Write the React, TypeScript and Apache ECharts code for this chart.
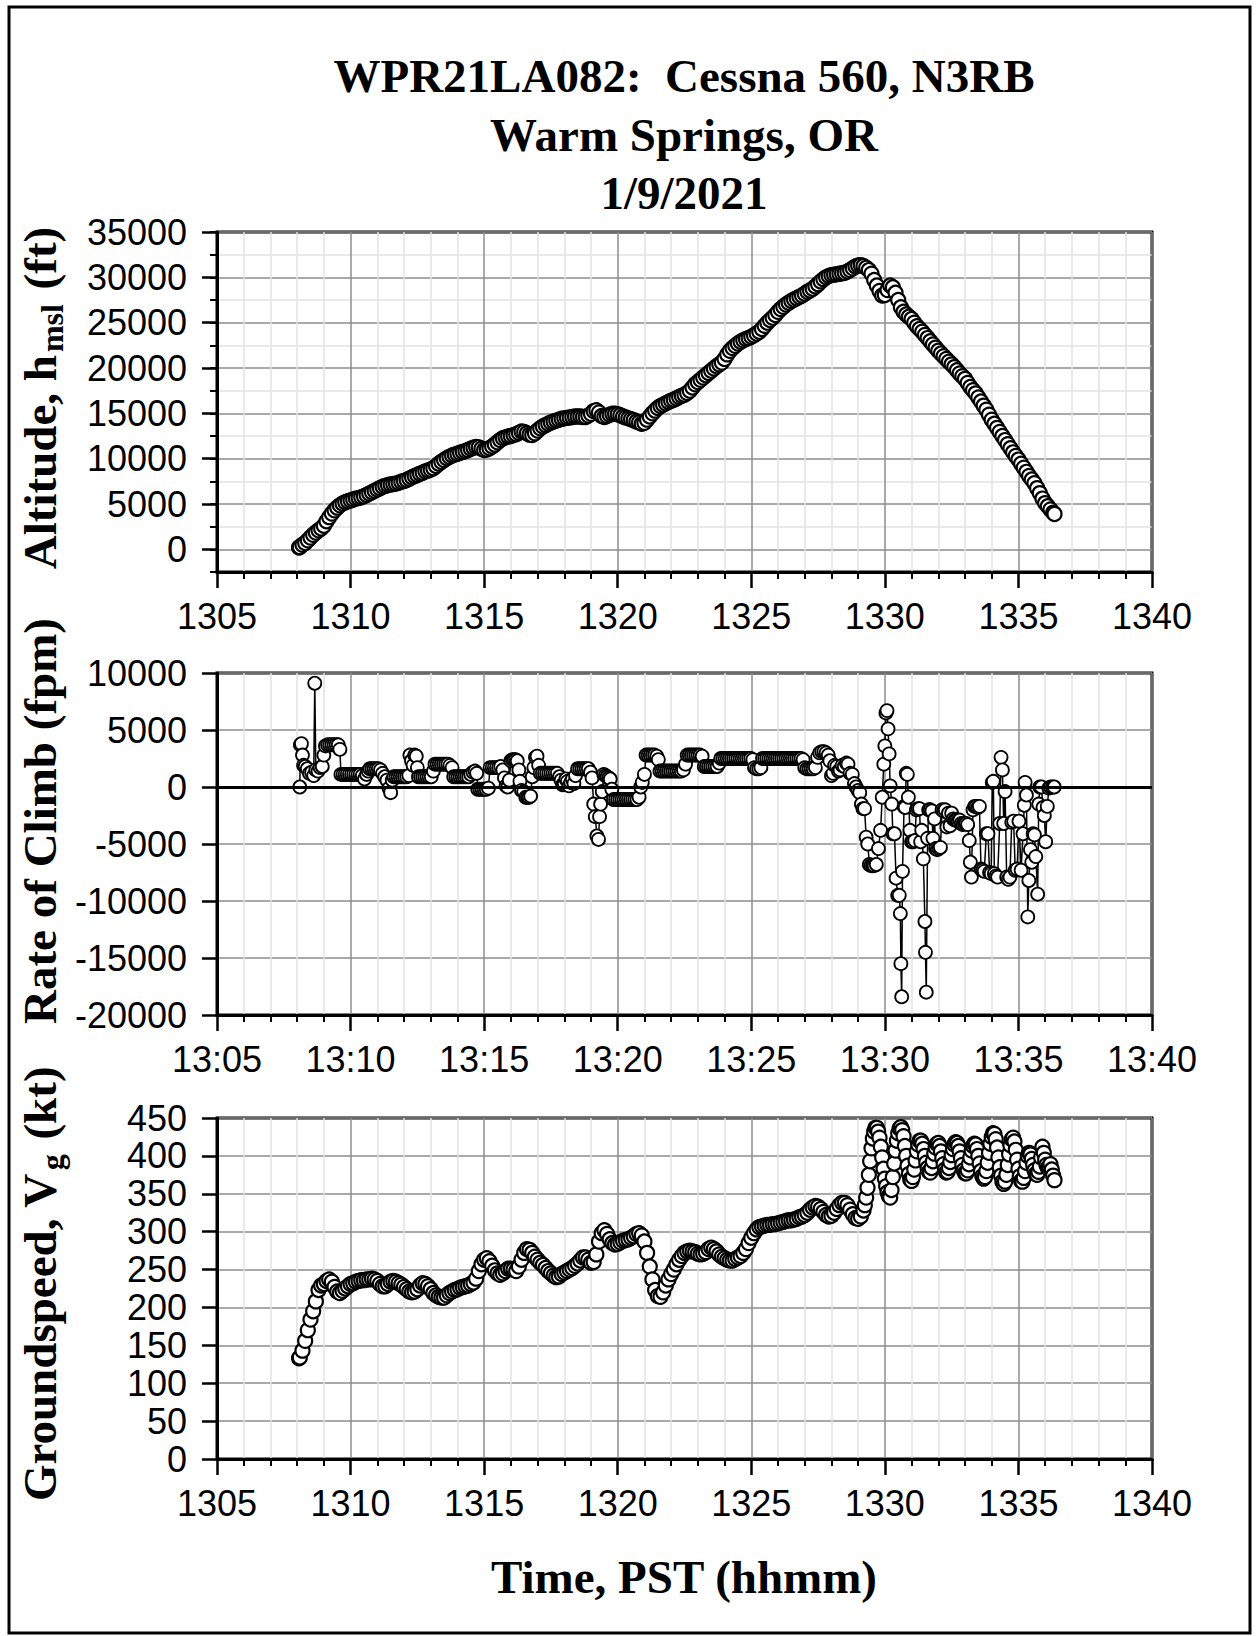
import React, { useEffect, useRef } from 'react';
import * as echarts from 'echarts';

// ---------- DATA ----------
// Time is hhmm with decimal minutes (e.g. 1308.5 = 13:08:30)
const altitudeFt: number[][] = [
  [1308.07, 200], [1308.1, 250], [1308.2, 500], [1308.3, 700], [1308.4, 1000], [1308.5, 1300], [1308.6, 1600],
  [1308.7, 1850], [1308.8, 2100], [1308.9, 2300], [1309.0, 2600], [1309.1, 3100], [1309.2, 3550], [1309.3, 3950],
  [1309.4, 4300], [1309.5, 4600], [1309.6, 4850], [1309.7, 5050], [1309.8, 5200], [1309.9, 5300], [1310.0, 5400],
  [1310.1, 5500], [1310.2, 5600], [1310.3, 5650], [1310.4, 5750], [1310.5, 5850], [1310.6, 6000], [1310.7, 6150],
  [1310.8, 6300], [1310.9, 6450], [1311.0, 6600], [1311.1, 6750], [1311.2, 6900], [1311.3, 7000], [1311.4, 7100],
  [1311.5, 7150], [1311.6, 7200], [1311.7, 7250], [1311.8, 7350], [1311.9, 7450], [1312.0, 7550], [1312.1, 7650],
  [1312.2, 7800], [1312.3, 7950], [1312.4, 8100], [1312.5, 8200], [1312.6, 8350], [1312.7, 8450], [1312.8, 8600],
  [1312.9, 8700], [1313.0, 8800], [1313.1, 8950], [1313.2, 9200], [1313.3, 9450], [1313.4, 9650], [1313.5, 9850],
  [1313.6, 10050], [1313.7, 10200], [1313.8, 10350], [1313.9, 10450], [1314.0, 10550], [1314.1, 10650], [1314.2, 10750],
  [1314.3, 10850], [1314.4, 10950], [1314.5, 11100], [1314.6, 11200], [1314.7, 11300], [1314.8, 11250], [1314.9, 11100],
  [1315.0, 10950], [1315.1, 11000], [1315.2, 11150], [1315.3, 11350], [1315.4, 11550], [1315.5, 11800], [1315.6, 12050],
  [1315.7, 12250], [1315.8, 12350], [1315.9, 12450], [1316.0, 12500], [1316.1, 12600], [1316.2, 12700], [1316.3, 12850],
  [1316.4, 13000], [1316.5, 12950], [1316.6, 12800], [1316.7, 12650], [1316.8, 12600], [1316.9, 12800], [1317.0, 13100],
  [1317.1, 13350], [1317.2, 13550], [1317.3, 13700], [1317.4, 13850], [1317.5, 14000], [1317.6, 14100], [1317.7, 14200],
  [1317.8, 14300], [1317.9, 14400], [1318.0, 14450], [1318.1, 14500], [1318.2, 14550], [1318.3, 14600], [1318.4, 14650],
  [1318.5, 14650], [1318.6, 14650], [1318.7, 14600], [1318.8, 14600], [1318.9, 14750], [1319.0, 14950], [1319.1, 15250],
  [1319.2, 15350], [1319.3, 15100], [1319.4, 14700], [1319.5, 14600], [1319.6, 14700], [1319.7, 14850], [1319.8, 14950],
  [1319.9, 14950], [1320.0, 14900], [1320.1, 14800], [1320.2, 14650], [1320.3, 14550], [1320.4, 14450], [1320.5, 14350],
  [1320.6, 14250], [1320.7, 14100], [1320.8, 14000], [1320.9, 13850], [1321.0, 13950], [1321.1, 14300], [1321.2, 14650],
  [1321.3, 15000], [1321.4, 15300], [1321.5, 15600], [1321.6, 15800], [1321.7, 15950], [1321.8, 16100], [1321.9, 16250],
  [1322.0, 16400], [1322.1, 16500], [1322.2, 16650], [1322.3, 16800], [1322.4, 16950], [1322.5, 17050], [1322.6, 17250],
  [1322.7, 17500], [1322.8, 17850], [1322.9, 18200], [1323.0, 18450], [1323.1, 18700], [1323.2, 18950], [1323.3, 19200],
  [1323.4, 19450], [1323.5, 19700], [1323.6, 19950], [1323.7, 20200], [1323.8, 20400], [1323.9, 20600], [1324.0, 21000],
  [1324.1, 21500], [1324.2, 21900], [1324.3, 22200], [1324.4, 22450], [1324.5, 22700], [1324.6, 22900], [1324.7, 23050],
  [1324.8, 23200], [1324.9, 23300], [1325.0, 23450], [1325.1, 23600], [1325.2, 23800], [1325.3, 24000], [1325.4, 24300],
  [1325.5, 24650], [1325.6, 25000], [1325.7, 25300], [1325.8, 25550], [1325.9, 25850], [1326.0, 26200], [1326.1, 26500],
  [1326.2, 26750], [1326.3, 27000], [1326.4, 27200], [1326.5, 27400], [1326.6, 27550], [1326.7, 27700], [1326.8, 27850],
  [1326.9, 28000], [1327.0, 28200], [1327.1, 28400], [1327.2, 28550], [1327.3, 28750], [1327.4, 29000], [1327.5, 29250],
  [1327.6, 29550], [1327.7, 29800], [1327.8, 30000], [1327.9, 30150], [1328.0, 30250], [1328.1, 30300], [1328.2, 30350],
  [1328.3, 30400], [1328.4, 30450], [1328.5, 30500], [1328.6, 30650], [1328.7, 30800], [1328.8, 31000], [1328.9, 31200],
  [1329.0, 31300], [1329.1, 31350], [1329.2, 31250], [1329.3, 31050], [1329.4, 30800], [1329.5, 30400], [1329.6, 29700],
  [1329.7, 29100], [1329.8, 28500], [1329.9, 28000], [1330.0, 28050], [1330.1, 28600], [1330.2, 29100], [1330.3, 28900],
  [1330.4, 28300], [1330.5, 27500], [1330.6, 26700], [1330.7, 26200], [1330.8, 25900], [1330.9, 25650], [1331.0, 25400],
  [1331.1, 25000], [1331.2, 24600], [1331.3, 24300], [1331.4, 24000], [1331.5, 23650], [1331.6, 23300], [1331.7, 22950],
  [1331.8, 22600], [1331.9, 22250], [1332.0, 21900], [1332.1, 21600], [1332.2, 21300], [1332.3, 21000], [1332.4, 20700],
  [1332.5, 20400], [1332.6, 20100], [1332.7, 19750], [1332.8, 19400], [1332.9, 19100], [1333.0, 18800], [1333.1, 18350],
  [1333.2, 17900], [1333.3, 17550], [1333.4, 17200], [1333.5, 16750], [1333.6, 16300], [1333.7, 15850], [1333.8, 15400],
  [1333.9, 14850], [1334.0, 14300], [1334.1, 13850], [1334.2, 13400], [1334.3, 12950], [1334.4, 12500], [1334.5, 12050],
  [1334.6, 11600], [1334.7, 11150], [1334.8, 10700], [1334.9, 10300], [1335.0, 9900], [1335.1, 9450], [1335.2, 9000],
  [1335.3, 8550], [1335.4, 8100], [1335.5, 7700], [1335.6, 7300], [1335.7, 6750], [1335.8, 6200], [1335.9, 5600],
  [1336.0, 5100], [1336.1, 4750], [1336.2, 4400], [1336.3, 4050], [1336.35, 3900],
];

const rateOfClimbFpm: number[][] = [
  [1308.1, 0], [1308.12, 3700], [1308.16, 3800], [1308.2, 2800], [1308.24, 1900], [1308.3, 1800],
  [1308.38, 1600], [1308.46, 1200], [1308.54, 1300], [1308.62, 1000], [1308.66, 9100], [1308.7, 1500],
  [1308.78, 1400], [1308.86, 1700], [1308.94, 1800], [1309.0, 2800], [1309.06, 3600], [1309.14, 3700],
  [1309.22, 3700], [1309.3, 3700], [1309.38, 3700], [1309.46, 3700], [1309.54, 3700], [1309.6, 3300],
  [1309.64, 1100], [1309.72, 1100], [1309.8, 1100], [1309.88, 1100], [1309.96, 1100], [1310.04, 1100],
  [1310.12, 1100], [1310.2, 1100], [1310.28, 1100], [1310.36, 1100], [1310.44, 1000], [1310.52, 700],
  [1310.6, 1100], [1310.66, 1400], [1310.72, 1600], [1310.8, 1600], [1310.88, 1600], [1310.96, 1600],
  [1311.04, 1600], [1311.12, 1500], [1311.2, 1200], [1311.28, 900], [1311.36, 600], [1311.44, -100],
  [1311.5, -500], [1311.56, 600], [1311.62, 900], [1311.7, 900], [1311.78, 900], [1311.86, 900],
  [1311.94, 900], [1312.02, 900], [1312.1, 900], [1312.18, 1000], [1312.22, 2800], [1312.28, 2300],
  [1312.34, 1900], [1312.4, 2800], [1312.46, 2700], [1312.5, 1700], [1312.54, 900], [1312.62, 900],
  [1312.7, 900], [1312.78, 900], [1312.86, 900], [1312.94, 900], [1313.02, 900], [1313.1, 1400],
  [1313.16, 2000], [1313.24, 2000], [1313.32, 2000], [1313.4, 2000], [1313.48, 2000], [1313.56, 2000],
  [1313.64, 2000], [1313.72, 1900], [1313.8, 1700], [1313.86, 900], [1313.94, 900], [1314.02, 900],
  [1314.1, 900], [1314.18, 900], [1314.26, 900], [1314.34, 900], [1314.42, 900], [1314.5, 1100],
  [1314.58, 1300], [1314.66, 1400], [1314.72, 1200], [1314.76, -200], [1314.84, -200], [1314.92, -200],
  [1315.0, -200], [1315.08, -200], [1315.16, -100], [1315.22, 1700], [1315.3, 1700], [1315.38, 1700],
  [1315.46, 1700], [1315.54, 1700], [1315.62, 1800], [1315.7, 1500], [1315.76, 800], [1315.82, 100],
  [1315.88, 0], [1315.94, 600], [1316.0, 2300], [1316.06, 2400], [1316.12, 2400], [1316.18, 2400],
  [1316.24, 2300], [1316.3, 1500], [1316.34, 500], [1316.4, -300], [1316.48, -400], [1316.56, -900],
  [1316.62, -900], [1316.68, -900], [1316.74, -800], [1316.8, 900], [1316.86, 1700], [1316.92, 2600],
  [1316.98, 2700], [1317.04, 1900], [1317.1, 1200], [1317.18, 1200], [1317.26, 1200], [1317.34, 1200],
  [1317.42, 1200], [1317.5, 1200], [1317.58, 1200], [1317.66, 1200], [1317.74, 1200], [1317.82, 900],
  [1317.88, 600], [1317.94, 200], [1318.0, 300], [1318.06, 700], [1318.12, 500], [1318.18, 100],
  [1318.24, 400], [1318.3, 700], [1318.36, 300], [1318.42, 1000], [1318.5, 1600], [1318.58, 1600],
  [1318.66, 1600], [1318.74, 1600], [1318.82, 1600], [1318.9, 1600], [1318.98, 1300], [1319.04, 800],
  [1319.1, -1500], [1319.16, -2600], [1319.22, -4300], [1319.28, -4600], [1319.32, -2600], [1319.36, -1500],
  [1319.42, -400], [1319.48, 1100], [1319.54, 1000], [1319.6, 900], [1319.66, 800], [1319.72, 700],
  [1319.78, -200], [1319.84, -1100], [1319.92, -1100], [1320.0, -1100], [1320.08, -1100], [1320.16, -1100],
  [1320.24, -1100], [1320.32, -1100], [1320.4, -1100], [1320.48, -1100], [1320.56, -1100], [1320.64, -1100],
  [1320.72, -1100], [1320.8, -900], [1320.86, 0], [1320.92, 400], [1321.0, 1100], [1321.06, 2800],
  [1321.14, 2800], [1321.22, 2800], [1321.3, 2800], [1321.38, 2800], [1321.46, 2700], [1321.52, 2400],
  [1321.58, 1400], [1321.66, 1400], [1321.74, 1400], [1321.82, 1400], [1321.9, 1400], [1321.98, 1400],
  [1322.06, 1400], [1322.14, 1400], [1322.22, 1400], [1322.3, 1400], [1322.38, 1400], [1322.46, 1500],
  [1322.54, 2000], [1322.6, 2800], [1322.68, 2800], [1322.76, 2800], [1322.84, 2800], [1322.92, 2800],
  [1323.0, 2800], [1323.08, 2800], [1323.16, 2700], [1323.24, 1800], [1323.32, 1800], [1323.4, 1800],
  [1323.48, 1800], [1323.56, 1800], [1323.64, 1800], [1323.72, 1800], [1323.8, 2100], [1323.86, 2500],
  [1323.94, 2500], [1324.02, 2500], [1324.1, 2500], [1324.18, 2500], [1324.26, 2500], [1324.34, 2500],
  [1324.42, 2500], [1324.5, 2500], [1324.58, 2500], [1324.66, 2500], [1324.74, 2500], [1324.82, 2500],
  [1324.9, 2500], [1324.98, 2500], [1325.06, 2400], [1325.12, 1700], [1325.2, 1600], [1325.28, 1600],
  [1325.36, 1700], [1325.42, 2500], [1325.5, 2500], [1325.58, 2500], [1325.66, 2500], [1325.74, 2500],
  [1325.82, 2500], [1325.9, 2500], [1325.98, 2500], [1326.06, 2500], [1326.14, 2500], [1326.22, 2500],
  [1326.3, 2500], [1326.38, 2500], [1326.46, 2500], [1326.54, 2500], [1326.62, 2500], [1326.7, 2500],
  [1326.78, 2500], [1326.86, 2500], [1326.94, 2400], [1327.0, 1700], [1327.08, 1600], [1327.16, 1600],
  [1327.24, 1600], [1327.32, 1600], [1327.4, 1700], [1327.48, 2600], [1327.56, 3000], [1327.64, 3100],
  [1327.72, 3100], [1327.8, 3000], [1327.88, 2800], [1327.94, 2300], [1328.0, 1000], [1328.06, 1200],
  [1328.12, 1900], [1328.2, 1800], [1328.26, 1400], [1328.32, 1500], [1328.4, 1900], [1328.48, 1800],
  [1328.56, 2100], [1328.62, 2000], [1328.7, 1200], [1328.78, 1100], [1328.86, 300], [1328.92, 0],
  [1329.0, -300], [1329.06, -500], [1329.12, -1500], [1329.18, -1900], [1329.24, -1900], [1329.3, -4400],
  [1329.36, -5000], [1329.42, -6800], [1329.48, -6900], [1329.54, -6900], [1329.6, -6900], [1329.68, -6800],
  [1329.76, -5400], [1329.84, -3800], [1329.9, -900], [1329.96, 2000], [1330.0, 3600], [1330.04, 6500],
  [1330.08, 6700], [1330.12, 5100], [1330.16, 2900], [1330.2, 100], [1330.26, -1500], [1330.3, -4100],
  [1330.36, -4100], [1330.42, -8000], [1330.48, -9500], [1330.54, -9500], [1330.58, -11100], [1330.6, -15500],
  [1330.63, -18400], [1330.66, -7400], [1330.72, -1700], [1330.76, -1800], [1330.8, 1200], [1330.84, 1100],
  [1330.88, -900], [1330.94, -3800], [1331.0, -4800], [1331.06, -4800], [1331.12, -4700], [1331.18, -2000],
  [1331.24, -1900], [1331.3, -1900], [1331.34, -4800], [1331.38, -3800], [1331.44, -6300], [1331.5, -11800],
  [1331.52, -14500], [1331.55, -18000], [1331.6, -4500], [1331.64, -2000], [1331.7, -2000], [1331.76, -2100],
  [1331.8, -4500], [1331.86, -2800], [1331.9, -5400], [1331.96, -5500], [1332.02, -5400], [1332.08, -5300],
  [1332.14, -2000], [1332.2, -2100], [1332.26, -2000], [1332.32, -3500], [1332.38, -2300], [1332.44, -3400],
  [1332.5, -2300], [1332.56, -2800], [1332.62, -2900], [1332.68, -2900], [1332.74, -3000], [1332.8, -2900],
  [1332.86, -3200], [1332.92, -3300], [1332.98, -3200], [1333.04, -3200], [1333.1, -3300], [1333.16, -4700],
  [1333.2, -6600], [1333.24, -7900], [1333.3, -2000], [1333.36, -1700], [1333.42, -1700], [1333.48, -1800],
  [1333.54, -1700], [1333.6, -7200], [1333.66, -7300], [1333.72, -7400], [1333.8, -4100], [1333.86, -4100],
  [1333.92, -7500], [1333.98, -7600], [1334.02, 400], [1334.06, 500], [1334.1, -7600], [1334.16, -7800],
  [1334.22, -7900], [1334.3, -3200], [1334.35, 2600], [1334.4, 1500], [1334.45, -3200], [1334.5, -400],
  [1334.56, -7900], [1334.62, -8100], [1334.68, -7900], [1334.75, -3100], [1334.82, -3000], [1334.88, -7300],
  [1334.95, -7200], [1335.02, -3000], [1335.1, -7300], [1335.17, -4100], [1335.22, -1600], [1335.25, 400],
  [1335.3, -700], [1335.35, -11400], [1335.39, -8200], [1335.45, -5500], [1335.5, -6600], [1335.55, -4100],
  [1335.6, -4200], [1335.65, -6100], [1335.72, -9400], [1335.76, -1500], [1335.8, 0], [1335.86, 0],
  [1335.92, -1800], [1335.97, -2500], [1336.02, -4800], [1336.08, -1700], [1336.14, -100], [1336.2, 0],
  [1336.28, 0], [1336.34, 0],
];

const groundspeedKt: number[][] = [
  [1308.07, 133], [1308.1, 134], [1308.2, 143], [1308.3, 156], [1308.4, 170], [1308.5, 184], [1308.6, 195],
  [1308.7, 208], [1308.8, 223], [1308.9, 229], [1309.0, 231], [1309.1, 235], [1309.2, 237], [1309.3, 234],
  [1309.4, 227], [1309.5, 221], [1309.6, 219], [1309.7, 222], [1309.8, 225], [1309.9, 228], [1310.0, 231],
  [1310.1, 232], [1310.2, 234], [1310.3, 235], [1310.4, 236], [1310.5, 236], [1310.6, 237], [1310.7, 237],
  [1310.8, 238], [1310.9, 237], [1311.0, 235], [1311.1, 231], [1311.2, 228], [1311.3, 228], [1311.4, 231],
  [1311.5, 234], [1311.6, 235], [1311.7, 234], [1311.8, 232], [1311.9, 230], [1312.0, 227], [1312.1, 224],
  [1312.2, 221], [1312.3, 220], [1312.4, 221], [1312.5, 224], [1312.6, 229], [1312.7, 232], [1312.8, 231],
  [1312.9, 228], [1313.0, 224], [1313.1, 219], [1313.2, 216], [1313.3, 214], [1313.4, 213], [1313.5, 213],
  [1313.6, 216], [1313.7, 219], [1313.8, 221], [1313.9, 223], [1314.0, 224], [1314.1, 226], [1314.2, 227],
  [1314.3, 228], [1314.4, 229], [1314.5, 231], [1314.6, 233], [1314.7, 238], [1314.8, 248], [1314.9, 257],
  [1315.0, 263], [1315.1, 265], [1315.2, 261], [1315.3, 255], [1315.4, 249], [1315.5, 245], [1315.6, 243],
  [1315.7, 245], [1315.8, 248], [1315.9, 251], [1316.0, 251], [1316.1, 250], [1316.2, 248], [1316.3, 254],
  [1316.4, 263], [1316.5, 272], [1316.6, 277], [1316.7, 276], [1316.8, 272], [1316.9, 267], [1317.0, 263],
  [1317.1, 259], [1317.2, 256], [1317.3, 252], [1317.4, 248], [1317.5, 245], [1317.6, 242], [1317.7, 240],
  [1317.8, 241], [1317.9, 244], [1318.0, 246], [1318.1, 248], [1318.2, 250], [1318.3, 252], [1318.4, 255],
  [1318.5, 258], [1318.6, 262], [1318.7, 266], [1318.8, 266], [1318.9, 263], [1319.0, 259], [1319.1, 260],
  [1319.2, 270], [1319.3, 287], [1319.4, 298], [1319.5, 302], [1319.6, 297], [1319.7, 290], [1319.8, 285],
  [1319.9, 283], [1320.0, 284], [1320.1, 286], [1320.2, 288], [1320.3, 289], [1320.4, 290], [1320.5, 292],
  [1320.6, 294], [1320.7, 297], [1320.8, 298], [1320.9, 295], [1321.0, 287], [1321.1, 272], [1321.2, 254],
  [1321.3, 237], [1321.4, 223], [1321.5, 215], [1321.6, 214], [1321.7, 220], [1321.8, 229], [1321.9, 237],
  [1322.0, 244], [1322.1, 250], [1322.2, 257], [1322.3, 263], [1322.4, 268], [1322.5, 272], [1322.6, 274],
  [1322.7, 275], [1322.8, 274], [1322.9, 273], [1323.0, 271], [1323.1, 270], [1323.2, 271], [1323.3, 273],
  [1323.4, 277], [1323.5, 279], [1323.6, 277], [1323.7, 274], [1323.8, 270], [1323.9, 267], [1324.0, 265],
  [1324.1, 263], [1324.2, 262], [1324.3, 262], [1324.4, 264], [1324.5, 266], [1324.6, 268], [1324.7, 272],
  [1324.8, 277], [1324.9, 285], [1325.0, 292], [1325.1, 298], [1325.2, 303], [1325.3, 306], [1325.4, 307],
  [1325.5, 308], [1325.6, 309], [1325.7, 309], [1325.8, 310], [1325.9, 310], [1326.0, 311], [1326.1, 312],
  [1326.2, 313], [1326.3, 314], [1326.4, 315], [1326.5, 315], [1326.6, 316], [1326.7, 317], [1326.8, 319],
  [1326.9, 320], [1327.0, 322], [1327.1, 325], [1327.2, 329], [1327.3, 332], [1327.4, 334], [1327.5, 333],
  [1327.6, 330], [1327.7, 326], [1327.8, 322], [1327.9, 320], [1328.0, 321], [1328.1, 325], [1328.2, 330],
  [1328.3, 335], [1328.4, 338], [1328.5, 338], [1328.6, 335], [1328.7, 329], [1328.8, 323], [1328.9, 318],
  [1329.0, 317], [1329.1, 320], [1329.2, 328], [1329.25, 335], [1329.3, 345], [1329.35, 358], [1329.4, 375],
  [1329.45, 393], [1329.5, 410], [1329.55, 423], [1329.6, 432], [1329.65, 437], [1329.7, 437], [1329.75, 432],
  [1329.8, 424], [1329.85, 412], [1329.9, 398], [1329.95, 383], [1330.0, 370], [1330.05, 360], [1330.1, 352],
  [1330.15, 347], [1330.2, 345], [1330.25, 355], [1330.3, 372], [1330.35, 390], [1330.4, 407], [1330.45, 420],
  [1330.5, 430], [1330.55, 436], [1330.6, 438], [1330.65, 434], [1330.7, 426], [1330.75, 413], [1330.8, 400],
  [1330.85, 387], [1330.9, 376], [1330.95, 369], [1331.0, 367], [1331.05, 372], [1331.1, 382], [1331.15, 394],
  [1331.2, 406], [1331.25, 415], [1331.3, 420], [1331.35, 420], [1331.4, 416], [1331.45, 409], [1331.5, 400],
  [1331.55, 391], [1331.6, 384], [1331.65, 379], [1331.7, 378], [1331.75, 384], [1331.8, 393], [1331.85, 403],
  [1331.9, 411], [1331.95, 416], [1332.0, 417], [1332.05, 413], [1332.1, 406], [1332.15, 397], [1332.2, 389],
  [1332.25, 382], [1332.3, 378], [1332.35, 379], [1332.4, 384], [1332.45, 392], [1332.5, 401], [1332.55, 409],
  [1332.6, 415], [1332.65, 418], [1332.7, 417], [1332.75, 413], [1332.8, 406], [1332.85, 397], [1332.9, 388],
  [1332.95, 381], [1333.0, 377], [1333.05, 377], [1333.1, 381], [1333.15, 389], [1333.2, 398], [1333.25, 407],
  [1333.3, 413], [1333.35, 416], [1333.4, 415], [1333.45, 409], [1333.5, 400], [1333.55, 390], [1333.6, 380],
  [1333.65, 373], [1333.7, 370], [1333.75, 372], [1333.8, 380], [1333.85, 391], [1333.9, 404], [1333.95, 416],
  [1334.0, 425], [1334.05, 430], [1334.1, 429], [1334.15, 422], [1334.2, 411], [1334.25, 398], [1334.3, 385],
  [1334.35, 374], [1334.4, 366], [1334.45, 363], [1334.5, 366], [1334.55, 375], [1334.6, 388], [1334.65, 402],
  [1334.7, 414], [1334.75, 422], [1334.8, 424], [1334.85, 419], [1334.9, 408], [1334.95, 395], [1335.0, 383],
  [1335.05, 373], [1335.1, 367], [1335.15, 366], [1335.2, 371], [1335.25, 380], [1335.3, 391], [1335.35, 400],
  [1335.4, 404], [1335.45, 402], [1335.5, 396], [1335.55, 388], [1335.6, 381], [1335.65, 376], [1335.7, 375],
  [1335.75, 379], [1335.8, 386], [1335.85, 398], [1335.9, 412], [1335.95, 404], [1336.0, 395], [1336.05, 388],
  [1336.1, 384], [1336.15, 386], [1336.2, 389], [1336.25, 382], [1336.3, 374], [1336.35, 368],
];

const titleLines = ['WPR21LA082:  Cessna 560, N3RB', 'Warm Springs, OR', '1/9/2021'];
const altMajorTicks = [0, 5000, 10000, 15000, 20000, 25000, 30000, 35000];

// ---------- STYLE ----------
const SERIF = '"Liberation Serif", "Times New Roman", serif';
const SANS = '"Liberation Sans", Arial, sans-serif';
const MAJOR_GRID = '#8c8c8c';
const MINOR_GRID = '#e2e2e2';

const GRID_LEFT = 217;
const GRID_W = 935;

function xAxis(gridIndex: number, fmt: (v: number) => string) {
  return {
    type: 'value', gridIndex, min: 1305, max: 1340, interval: 5,
    axisLine: { show: true, onZero: false, lineStyle: { color: '#000', width: 3 } },
    axisTick: { show: true, inside: false, length: 16, lineStyle: { color: '#000', width: 2.5 } },
    minorTick: { show: true, splitNumber: 5, length: 7, lineStyle: { color: '#000', width: 2 } },
    splitLine: { show: true, lineStyle: { color: MAJOR_GRID, width: 1.5 } },
    minorSplitLine: { show: true, lineStyle: { color: MINOR_GRID, width: 1.5 } },
    axisLabel: { fontSize: 36, fontFamily: SANS, color: '#000', margin: 26, formatter: fmt },
  };
}

const baseY = {
  type: 'value',
  axisLine: { show: true, onZero: false, lineStyle: { color: '#000', width: 3 } },
  axisTick: { show: true, inside: false, length: 15, lineStyle: { color: '#000', width: 2.5 } },
  axisLabel: { fontSize: 36, fontFamily: SANS, color: '#000', margin: 30, formatter: (v: number) => String(v) },
  splitLine: { show: true, lineStyle: { color: MAJOR_GRID, width: 1.5 } },
};

const symbolStyle = { color: '#fff', borderColor: '#000', borderWidth: 2.2 };

function axisTitle(x: number, y: number, text: string, rich: any) {
  return {
    type: 'text', x, y, rotation: Math.PI / 2,
    style: {
      text, rich, fill: '#000', align: 'center', verticalAlign: 'middle',
      fontFamily: SERIF, fontWeight: 'bold', fontSize: 47,
    },
  };
}

const mainTok = { fontFamily: SERIF, fontWeight: 'bold', fontSize: 47, fill: '#000' };
const subTok = { fontFamily: SERIF, fontWeight: 'bold', fontSize: 32, fill: '#000', padding: [24, 3, 0, 3] };

export default function App() {
  const ref = useRef<HTMLDivElement>(null);
  useEffect(() => {
    const chart = echarts.init(ref.current!, null, { renderer: 'svg', width: 1260, height: 1636 });
    const option: any = {
      animation: false,
      backgroundColor: '#fff',
      grid: [
        { left: GRID_LEFT, width: GRID_W, top: 232, height: 340, show: true, borderColor: '#000', borderWidth: 3, outerBoundsMode: 'none' },
        { left: GRID_LEFT, width: GRID_W, top: 673, height: 342, show: true, borderColor: '#000', borderWidth: 3, outerBoundsMode: 'none' },
        { left: GRID_LEFT, width: GRID_W, top: 1118, height: 341, show: true, borderColor: '#000', borderWidth: 3, outerBoundsMode: 'none' },
      ],
      xAxis: [
        xAxis(0, (v: number) => String(v)),
        xAxis(1, (v: number) => '13:' + String(Math.round(v - 1300)).padStart(2, '0')),
        xAxis(2, (v: number) => String(v)),
      ],
      yAxis: [
        {
          ...baseY, gridIndex: 0, min: -2500, max: 35000, interval: 2500,
          axisTick: { show: true, inside: false, length: 7, lineStyle: { color: '#000', width: 2 } },
          axisLabel: { ...baseY.axisLabel, formatter: (v: number) => (v % 5000 === 0 ? String(v) : '') },
          splitLine: { show: true, lineStyle: { color: [MINOR_GRID, MAJOR_GRID], width: 1.5 } },
        },
        {
          type: 'value', gridIndex: 0, position: 'left', min: -2500, max: 35000, interval: 2500,
          axisLine: { show: false },
          axisTick: { show: true, inside: false, length: 15, customValues: altMajorTicks, lineStyle: { color: '#000', width: 2.5 } },
          axisLabel: { show: false },
          splitLine: { show: false },
        },
        { ...baseY, gridIndex: 1, min: -20000, max: 10000, interval: 5000 },
        { ...baseY, gridIndex: 2, min: 0, max: 450, interval: 50 },
      ],
      series: [
        {
          type: 'line', xAxisIndex: 0, yAxisIndex: 0, data: altitudeFt,
          symbol: 'circle', symbolSize: 14, showSymbol: true, showAllSymbol: true,
          itemStyle: symbolStyle, lineStyle: { color: '#000', width: 1 },
        },
        {
          type: 'line', xAxisIndex: 1, yAxisIndex: 2, data: rateOfClimbFpm,
          symbol: 'circle', symbolSize: 13, showSymbol: true, showAllSymbol: true,
          itemStyle: { color: '#fff', borderColor: '#000', borderWidth: 1.8 }, lineStyle: { color: '#000', width: 1.5 },
          markLine: {
            silent: true, symbol: ['none', 'none'], label: { show: false },
            lineStyle: { color: '#000', width: 3, type: 'solid' },
            data: [{ yAxis: 0 }],
          },
        },
        {
          type: 'line', xAxisIndex: 2, yAxisIndex: 3, data: groundspeedKt,
          symbol: 'circle', symbolSize: 14, showSymbol: true, showAllSymbol: true,
          itemStyle: symbolStyle, lineStyle: { color: '#000', width: 1 },
        },
      ],
      graphic: [
        {
          type: 'rect', shape: { x: 9, y: 7, width: 1241, height: 1626 },
          style: { fill: 'none', stroke: '#000', lineWidth: 3 }, silent: true,
        },
        ...titleLines.map((t, i) => ({
          type: 'text', x: 684, y: [76, 135, 193][i],
          style: { text: t, fill: '#000', align: 'center', verticalAlign: 'middle', fontFamily: SERIF, fontWeight: 'bold', fontSize: 47 },
        })),
        axisTitle(40, 398, '{a|Altitude, h}{s|msl}{a| (ft)}', { a: mainTok, s: subTok }),
        axisTitle(40, 821, '{a|Rate of Climb (fpm)}', { a: mainTok }),
        axisTitle(40, 1284, '{a|Groundspeed, V}{s|g}{a| (kt)}', { a: mainTok, s: subTok }),
        {
          type: 'text', x: 684, y: 1577,
          style: { text: 'Time, PST (hhmm)', fill: '#000', align: 'center', verticalAlign: 'middle', fontFamily: SERIF, fontWeight: 'bold', fontSize: 47 },
        },
      ],
    };
    chart.setOption(option);
    return () => chart.dispose();
  }, []);
  return (
    <div
      ref={ref}
      style={{ position: 'absolute', left: 0, top: 0, width: 1260, height: 1636, background: '#fff' }}
    />
  );
}
